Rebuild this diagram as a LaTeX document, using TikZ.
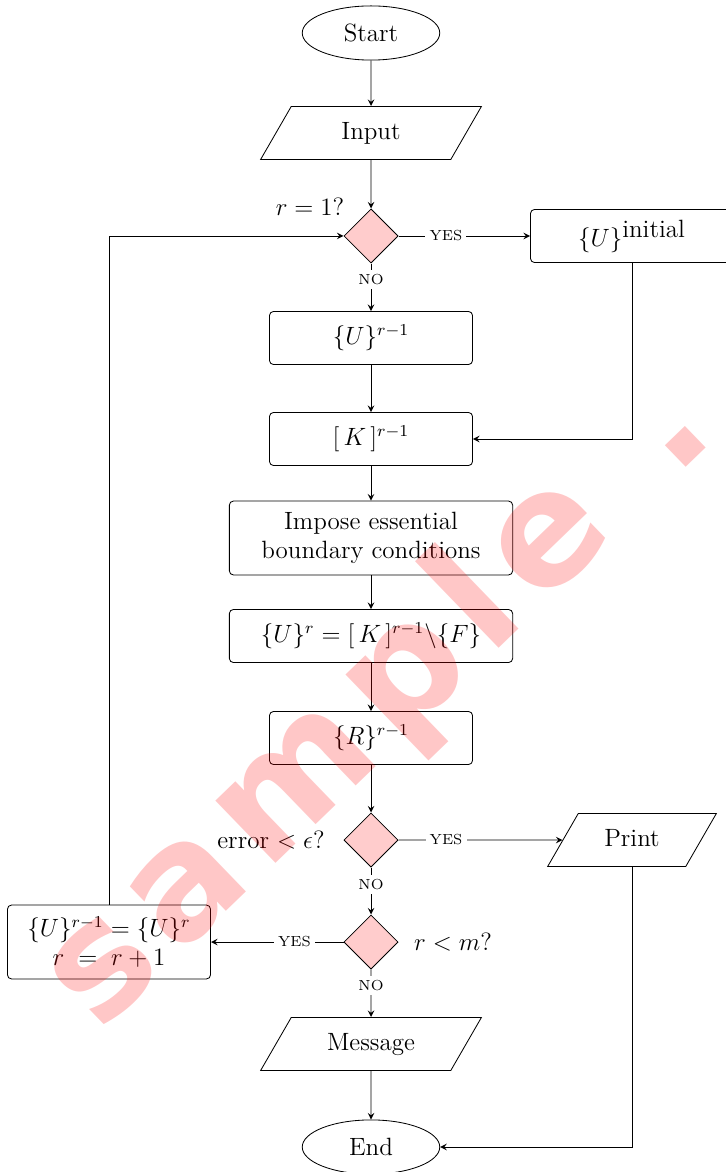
\documentclass[tikz,border=0pt]{standalone}
\usepackage{fontspec}
\usetikzlibrary{shapes.geometric}
\newfontfamily\markfont[LetterSpace=10]{DejaVu Sans}

\begin{document}
\begin{tikzpicture}[x=0.48pt,y=-0.48pt,font=\large,
  term/.style={draw,ellipse,minimum width=66pt,minimum height=26pt,inner sep=0pt},
  io/.style={draw,trapezium,trapezium left angle=60,trapezium right angle=120,trapezium stretches body,
    text height=8.5pt,text depth=2.5pt,inner xsep=2pt,inner ysep=7.25pt,minimum width=106pt},
  proc/.style={draw,rectangle,rounded corners=2pt,minimum width=97.5pt,minimum height=25.5pt,inner sep=0pt},
  wide/.style={proc,minimum width=136pt},
  tall/.style={minimum height=35.5pt,align=center},
  decide/.style={draw,diamond,fill=red!20,minimum size=26pt,inner sep=0pt},
  arr/.style={-stealth},
  lbl/.style={fill=white,font=\scriptsize,inner sep=2pt}]
\useasboundingbox (0,0) rectangle (726,1172);

\node[term] (start) at (371,33) {Start};
\node[io] (input) at (371,133) {Input};
\node[decide] (d1) at (371,236) {};
\node (q1) at (310,207) {$r = 1?$};
\node[proc] (init) at (632,236) {$\{U\}^{\mbox{initial}}$};
\node[proc] (uprev) at (371,338) {$\{U\}^{r-1}$};
\node[proc] (kmat) at (371,439) {$[\,K\,]^{r-1}$};
\node[wide,tall] (bc) at (371,538) {Impose essential\\boundary conditions};
\node[wide] (solve) at (371,636) {$\{U\}^r = [\,K\,]^{r-1}\backslash\{F\}$};
\node[proc] (res) at (371,738) {$\{R\}^{r-1}$};
\node[decide] (d2) at (371,840) {};
\node (q2) at (271,840) {error~$<\epsilon$?};
\node[io,minimum width=81pt] (print) at (632,840) {Print};
\node[decide] (d3) at (371,942) {};
\node (q3) at (453,942) {$r<m$?};
\node[proc,tall] (upd) at (109,942) {$\{U\}^{r-1} = \{U\}^r$\\$r \;=\; r+1$};
\node[io] (msg) at (371,1044) {Message};
\node[term] (stop) at (371,1147) {End};

\draw[arr] (start) -- (input);
\draw[arr] (input) -- (d1);
\draw[arr] (d1) -- node[lbl,pos=.36] {YES} (init);
\draw[arr] (d1) -- node[lbl,pos=.33] {NO} (uprev);
\draw[arr] (init) |- (kmat);
\draw[arr] (uprev) -- (kmat);
\draw[arr] (kmat) -- (bc);
\draw[arr] (bc) -- (solve);
\draw[arr] (solve) -- (res);
\draw[arr] (res) -- (d2);
\draw[arr] (d2) -- node[lbl,pos=.29] {YES} (print);
\draw[arr] (d2) -- node[lbl,pos=.37] {NO} (d3);
\draw[arr] (d3) -- node[lbl,pos=.37] {YES} (upd);
\draw[arr] (d3) -- node[lbl,pos=.33] {NO} (msg);
\draw[arr] (msg) -- (stop);
\draw[arr] (print) |- (stop);
\draw[arr] (upd) |- (d1);

\node[rotate=44,anchor=mid west,inner sep=0pt,text=red,text opacity=0.22,
  font=\markfont\bfseries\fontsize{76}{76}\selectfont] (mark) at (96,1031) {sample\kern0.5em.};
\end{tikzpicture}
\end{document}
